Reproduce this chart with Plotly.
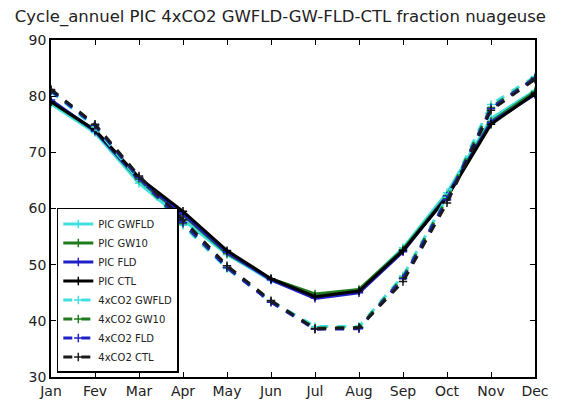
import plotly.graph_objects as go

months = ["Jan", "Fev", "Mar", "Apr", "May", "Jun", "Jul", "Aug", "Sep", "Oct", "Nov", "Dec"]

pic_gwfld = [78.6, 73.5, 64.5, 58.0, 51.8, 47.2, 44.5, 45.4, 53.0, 62.8, 76.0, 81.0]
pic_gw10 = [79.0, 73.8, 65.0, 58.8, 52.0, 47.5, 44.8, 45.6, 52.7, 62.3, 75.5, 80.8]
pic_fld = [79.3, 73.8, 65.2, 59.0, 52.2, 47.3, 44.0, 45.0, 52.3, 62.2, 75.3, 80.3]
pic_ctl = [79.0, 74.0, 65.5, 59.5, 52.5, 47.5, 44.3, 45.3, 52.5, 62.0, 75.0, 80.5]
co2_gwfld = [80.8, 74.5, 65.0, 57.0, 49.3, 43.5, 39.0, 39.0, 48.0, 62.0, 78.5, 83.5]
co2_gw10 = [81.0, 74.8, 65.3, 57.3, 49.5, 43.4, 38.7, 38.8, 47.7, 61.7, 78.0, 83.3]
co2_fld = [81.0, 74.8, 65.5, 57.5, 49.5, 43.3, 38.5, 38.6, 47.5, 61.5, 77.8, 83.2]
co2_ctl = [81.2, 75.0, 65.8, 58.0, 49.8, 43.6, 38.6, 38.8, 47.0, 61.0, 77.5, 83.0]

series = [
    ("PIC GWFLD", pic_gwfld, "#40E0E0", "solid"),
    ("PIC GW10", pic_gw10, "#1E7B1E", "solid"),
    ("PIC FLD", pic_fld, "#2020C8", "solid"),
    ("PIC CTL", pic_ctl, "#000000", "solid"),
    ("4xCO2 GWFLD", co2_gwfld, "#40E0E0", "dash"),
    ("4xCO2 GW10", co2_gw10, "#1E7B1E", "dash"),
    ("4xCO2 FLD", co2_fld, "#2020C8", "dash"),
    ("4xCO2 CTL", co2_ctl, "#1a1a1a", "dash"),
]

fig = go.Figure()
for name, vals, color, dash in series:
    fig.add_trace(go.Scatter(
        x=months, y=vals, name=name, mode="lines+markers",
        line=dict(color=color, width=3, dash=dash),
        marker=dict(symbol="cross-thin", size=6, line=dict(color=color, width=1.5)),
    ))

font = "DejaVu Sans, sans-serif"
fig.update_layout(
    width=569, height=403,
    margin=dict(l=43, r=42, t=32, b=26),
    paper_bgcolor="white", plot_bgcolor="white",
    title=dict(text="Cycle_annuel PIC 4xCO2 GWFLD-GW-FLD-CTL fraction nuageuse",
               x=0.012, xanchor="left", xref="container", y=0.995, yanchor="top",
               font=dict(family=font, size=16.5, color="#222")),
    font=dict(family=font, size=14, color="#222"),
    xaxis=dict(range=[0, 11], showgrid=False, showline=True, linecolor="black", linewidth=1.5,
               mirror="ticks", ticks="inside", ticklen=5, tickcolor="black",
               tickfont=dict(size=14)),
    yaxis=dict(range=[30, 90], dtick=10, showgrid=False, zeroline=False, showline=True,
               linecolor="black", linewidth=1.5, mirror="ticks", ticks="inside", ticklen=5,
               tickcolor="black", tickfont=dict(size=14)),
    legend=dict(x=0.012, y=0.012, xanchor="left", yanchor="bottom",
                bordercolor="black", borderwidth=1.5, bgcolor="white",
                font=dict(size=10, color="#222"), tracegroupgap=0, itemwidth=30),
)

fig.write_html("out.html")
